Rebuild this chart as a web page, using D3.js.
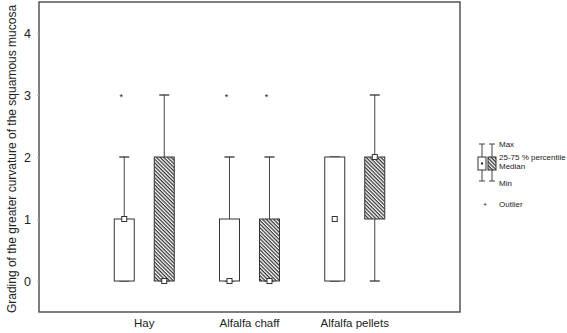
<!DOCTYPE html>
<html><head><meta charset="utf-8">
<script src="https://cdn.jsdelivr.net/npm/d3@7"></script>
<style>body{margin:0;background:#fff;} text{font-family:Arial,"Liberation Sans",sans-serif;fill:#222;}</style>
</head><body><svg id="c" width="567" height="333"></svg>
<script>
const groups = ["Hay", "Alfalfa chaff", "Alfalfa pellets"];
const series = ["plain", "hatched"];
const boxMin    = [0, 0, 0, 0, 0, 0];
const boxQ1     = [0, 0, 0, 0, 0, 1];
const boxMedian = [1, 0, 0, 0, 1, 2];
const boxQ3     = [1, 2, 1, 1, 2, 2];
const boxMax    = [2, 3, 2, 2, 2, 3];
const boxGroup  = [0, 0, 1, 1, 2, 2];
const boxSeries = [0, 1, 0, 1, 0, 1];
const outliers  = [[0, 3], [2, 3], [3, 3]]; // [box index, value]
const yTicks = [0, 1, 2, 3, 4];
const yLabel = "Grading of the greater curvature  of the squamous mucosa";
const legendLabels = ["Max", "25-75 % percentile", "Median", "Min", "Outlier"];

const svg = d3.select("#c");
const L = 39, R = 460, T = 2, B = 312;
const y = d3.scaleLinear().domain([-0.5, 4.5]).range([B, T]);
const x = d3.scalePoint().domain(groups).range([L, R]).padding(1);
const off = d3.scaleOrdinal().domain(series).range([-20, 20]);
const bw = 20, cap = 10;

const defs = svg.append("defs");
const pat = defs.append("pattern").attr("id", "hatch").attr("patternUnits", "userSpaceOnUse")
  .attr("width", 2.6).attr("height", 2.6).attr("patternTransform", "rotate(45)");
pat.append("rect").attr("width", 2.6).attr("height", 2.6).attr("fill", "#fff");
pat.append("line").attr("x1", 0).attr("y1", 0.6).attr("x2", 2.6).attr("y2", 0.6)
  .attr("stroke", "#333").attr("stroke-width", 1.3);

// frame
svg.append("rect").attr("x", L).attr("y", T).attr("width", R - L).attr("height", B - T)
  .attr("fill", "none").attr("stroke", "#3a3a3a").attr("stroke-width", 1.3);

// y axis
const yAxis = d3.axisLeft(y).tickValues(yTicks).tickSize(2).tickFormat(d3.format("d"));
const ga = svg.append("g").attr("transform", `translate(${L},0)`).call(yAxis);
ga.select(".domain").remove();
ga.selectAll(".tick line").attr("stroke", "#bbb");
ga.selectAll(".tick text").attr("x", -8).style("font-size", "12.5px").style("font-family", "Arial,'Liberation Sans',sans-serif").attr("fill", "#333");

svg.append("text").attr("transform", `translate(12,${(T + B) / 2 + 2}) rotate(-90)`)
  .attr("text-anchor", "middle").attr("dy", "0.35em").style("font-size", "12px").attr("fill", "#333").text(yLabel);

// x labels
svg.selectAll(".xl").data(groups).join("text").attr("class", "xl")
  .attr("x", d => x(d)).attr("y", 327).attr("text-anchor", "middle")
  .style("font-size", "11.5px").text(d => d);

const boxes = boxMin.map((m, i) => ({
  min: m, q1: boxQ1[i], med: boxMedian[i], q3: boxQ3[i], max: boxMax[i],
  cx: x(groups[boxGroup[i]]) + off(series[boxSeries[i]]), s: boxSeries[i]
}));

const g = svg.append("g");
boxes.forEach(b => {
  if (b.max > b.q3) g.append("line").attr("x1", b.cx).attr("x2", b.cx).attr("y1", y(b.q3)).attr("y2", y(b.max)).attr("stroke", "#444");
  if (b.min < b.q1) g.append("line").attr("x1", b.cx).attr("x2", b.cx).attr("y1", y(b.q1)).attr("y2", y(b.min)).attr("stroke", "#444");
  [b.max, b.min].forEach(v => g.append("line").attr("x1", b.cx - cap / 2).attr("x2", b.cx + cap / 2)
    .attr("y1", y(v)).attr("y2", y(v)).attr("stroke", "#333").attr("stroke-width", 1.3));
  const h = Math.max(y(b.q1) - y(b.q3), 0);
  g.append("rect").attr("x", b.cx - bw / 2).attr("y", y(b.q3)).attr("width", bw).attr("height", h)
    .attr("fill", b.s ? "url(#hatch)" : "#fff").attr("stroke", "#333").attr("stroke-width", 1);
  g.append("rect").attr("x", b.cx - 2.5).attr("y", y(b.med) - 2.5).attr("width", 5).attr("height", 5)
    .attr("fill", "#fff").attr("stroke", "#333").attr("stroke-width", 1);
});

svg.selectAll(".out").data(outliers).join("text").attr("class", "out")
  .attr("x", d => boxes[d[0]].cx - 3).attr("y", d => y(d[1]) + 5).attr("text-anchor", "middle")
  .style("font-size", "9px").text("*");

// legend
const lg = svg.append("g");
const lx1 = 482, lx2 = 492, lt = 144, lb = 181;
[lx1, lx2].forEach((cx, i) => {
  lg.append("line").attr("x1", cx).attr("x2", cx).attr("y1", lt).attr("y2", lb).attr("stroke", "#444");
  [lt, lb].forEach(v => lg.append("line").attr("x1", cx - 3).attr("x2", cx + 3).attr("y1", v).attr("y2", v).attr("stroke", "#444"));
  lg.append("rect").attr("x", cx - 4).attr("y", 157).attr("width", 8).attr("height", 13)
    .attr("fill", i ? "url(#hatch)" : "#fff").attr("stroke", "#333");
});
lg.append("rect").attr("x", lx1 - 1).attr("y", 162.5).attr("width", 2).attr("height", 2).attr("fill", "#222");
const ly = [147, 160, 169, 186, 207];
lg.selectAll(".lt").data(legendLabels).join("text").attr("class", "lt")
  .attr("x", 499).attr("y", (d, i) => ly[i]).style("font-size", "8px").text(d => d);
lg.append("text").attr("x", 485).attr("y", 208).attr("text-anchor", "middle").style("font-size", "8px").text("*");
</script></body></html>
